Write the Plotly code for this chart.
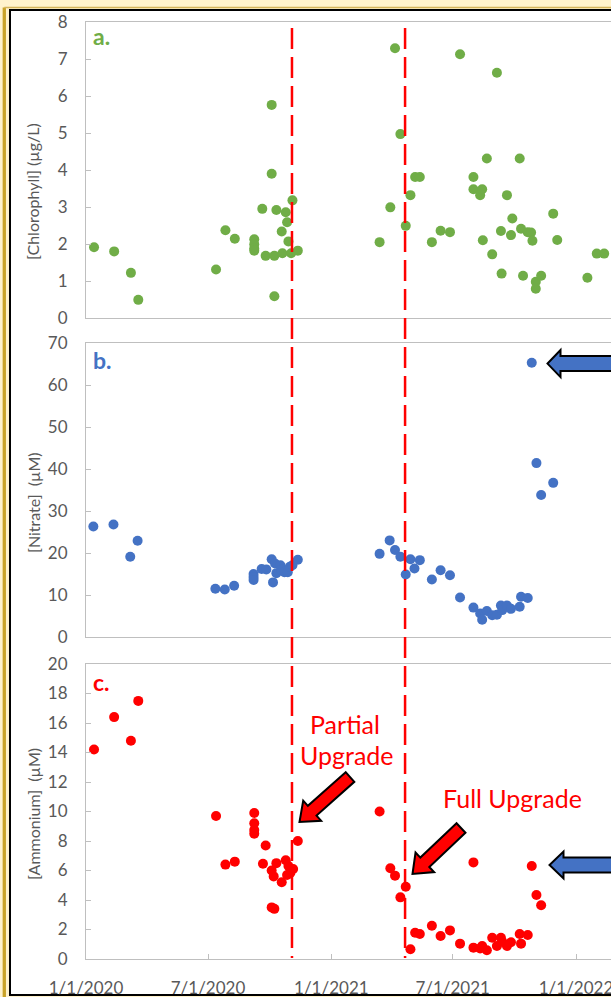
import plotly.graph_objects as go

# ---------------- data ----------------
chl_dates = ["2020-01-13", "2020-02-12", "2020-03-08", "2020-03-19", "2020-07-13", "2020-07-27",
             "2020-08-10", "2020-09-08", "2020-09-08", "2020-09-08", "2020-09-08", "2020-09-20",
             "2020-09-25", "2020-10-04", "2020-10-04", "2020-10-08", "2020-10-08", "2020-10-11",
             "2020-10-19", "2020-10-20", "2020-10-25", "2020-10-27", "2020-10-29", "2020-11-02",
             "2020-11-04", "2020-11-12", "2021-03-14", "2021-03-30", "2021-04-06", "2021-04-14",
             "2021-04-22", "2021-04-29", "2021-05-06", "2021-05-13", "2021-05-31", "2021-06-13",
             "2021-06-27", "2021-07-12", "2021-08-01", "2021-08-01", "2021-08-11", "2021-08-14",
             "2021-08-15", "2021-08-21", "2021-08-29", "2021-09-05", "2021-09-11", "2021-09-12",
             "2021-09-20", "2021-09-26", "2021-09-28", "2021-10-09", "2021-10-11", "2021-10-14",
             "2021-10-21", "2021-10-26", "2021-10-28", "2021-11-02", "2021-11-02", "2021-11-10",
             "2021-11-28", "2021-12-04", "2022-01-18", "2022-02-01", "2022-02-12"]
chl_vals = [1.91, 1.80, 1.22, 0.49, 1.31, 2.37,
            2.14, 2.13, 1.99, 1.88, 1.82, 2.95,
            1.68, 5.76, 3.90, 1.68, 0.59, 2.92,
            2.34, 1.75, 2.86, 2.59, 2.07, 1.75,
            3.18, 1.82, 2.05, 2.99, 7.29, 4.97,
            2.49, 3.32, 3.81, 3.81, 2.05, 2.36,
            2.32, 7.13, 3.81, 3.48, 3.32, 3.48,
            2.10, 4.31, 1.72, 6.63, 2.35, 1.20,
            3.32, 2.24, 2.69, 4.31, 2.41, 1.14,
            2.32, 2.31, 2.09, 0.98, 0.79, 1.14,
            2.82, 2.11, 1.09, 1.74, 1.74]

no3_dates = ["2020-01-12", "2020-02-11", "2020-03-07", "2020-03-18", "2020-07-12", "2020-07-26",
             "2020-08-09", "2020-09-07", "2020-09-07", "2020-09-07", "2020-09-19", "2020-09-26",
             "2020-10-04", "2020-10-06", "2020-10-09", "2020-10-11", "2020-10-17", "2020-10-18",
             "2020-10-23", "2020-10-28", "2020-10-31", "2020-11-04", "2020-11-12", "2021-03-14",
             "2021-03-29", "2021-04-06", "2021-04-14", "2021-04-22", "2021-04-29", "2021-05-05",
             "2021-05-13", "2021-05-31", "2021-06-13", "2021-06-27", "2021-07-12", "2021-08-01",
             "2021-08-11", "2021-08-14", "2021-08-21", "2021-08-29", "2021-09-05", "2021-09-11",
             "2021-09-13", "2021-09-20", "2021-09-26", "2021-10-09", "2021-10-11", "2021-10-21",
             "2021-10-27", "2021-11-03", "2021-11-10", "2021-11-28"]
no3_vals = [26.3, 26.8, 19.1, 22.9, 11.5, 11.3,
            12.2, 15.0, 14.3, 13.6, 16.2, 16.1,
            18.5, 13.0, 17.5, 15.2, 17.1, 16.0,
            15.4, 15.4, 16.7, 17.1, 18.4, 19.8,
            23.0, 20.7, 19.1, 14.9, 18.5, 16.3,
            18.3, 13.7, 15.9, 14.7, 9.4, 7.0,
            5.6, 4.1, 6.2, 5.2, 5.3, 7.5,
            6.4, 7.5, 6.7, 7.2, 9.6, 9.3,
            65.3, 41.4, 33.8, 36.7]

nh4_dates = ["2020-01-13", "2020-02-12", "2020-03-08", "2020-03-19", "2020-07-13", "2020-07-27",
             "2020-08-10", "2020-09-08", "2020-09-08", "2020-09-08", "2020-09-08", "2020-09-21",
             "2020-09-25", "2020-10-04", "2020-10-04", "2020-10-08", "2020-10-07", "2020-10-11",
             "2020-10-19", "2020-10-25", "2020-10-27", "2020-10-29", "2020-11-01", "2020-11-05",
             "2020-11-12", "2021-03-14", "2021-03-30", "2021-04-06", "2021-04-14", "2021-04-22",
             "2021-04-29", "2021-05-06", "2021-05-13", "2021-05-31", "2021-06-13", "2021-06-27",
             "2021-07-12", "2021-08-01", "2021-08-01", "2021-08-11", "2021-08-14", "2021-08-21",
             "2021-08-29", "2021-09-05", "2021-09-11", "2021-09-13", "2021-09-20", "2021-09-26",
             "2021-10-09", "2021-10-11", "2021-10-21", "2021-10-27", "2021-11-03", "2021-11-10"]
nh4_vals = [14.2, 16.4, 14.8, 17.5, 9.7, 6.4,
            6.6, 9.9, 9.2, 8.75, 8.5, 6.46,
            7.7, 6.0, 3.5, 3.4, 5.6, 6.5,
            5.2, 6.7, 5.7, 6.3, 5.85, 6.1,
            8.0, 10.0, 6.15, 5.65, 4.18, 4.9,
            0.66, 1.78, 1.7, 2.26, 1.56, 1.94,
            1.04, 6.55, 0.77, 0.72, 0.88, 0.59,
            1.44, 0.88, 1.44, 1.17, 0.88, 1.13,
            1.69, 1.04, 1.63, 6.3, 4.34, 3.64]

upgrade_dates = ["2020-11-03 07:00", "2021-04-21"]
x_tick_vals = ["2020-01-01", "2020-07-01", "2021-01-01", "2021-07-01", "2022-01-01"]
x_tick_text = ["1/1/2020", "7/1/2020", "1/1/2021", "7/1/2021", "1/1/2022"]
x_range = ["2020-01-01", "2022-02-22 05:00"]

# ---------------- layout helpers ----------------
W, H = 611, 997
L, R, T, B = 86, 0, 22, 38
PW, PH = W - L - R, H - T - B


def px(x):
    return (x - L) / PW


def py(y):
    return (H - B - y) / PH


FONT = "Lato, Open Sans, sans-serif"
GRAY = "#595959"
AXIS = "#BFBFBF"

fig = go.Figure()
fig.add_trace(go.Scatter(x=chl_dates, y=chl_vals, mode="markers", xaxis="x", yaxis="y",
                         marker=dict(color="#70AD47", size=10), showlegend=False))
fig.add_trace(go.Scatter(x=no3_dates, y=no3_vals, mode="markers", xaxis="x2", yaxis="y2",
                         marker=dict(color="#4472C4", size=10), showlegend=False))
fig.add_trace(go.Scatter(x=nh4_dates, y=nh4_vals, mode="markers", xaxis="x3", yaxis="y3",
                         marker=dict(color="#FF0000", size=10), showlegend=False))

xbase = dict(type="date", range=x_range, showgrid=False, zeroline=False, showline=True,
             linecolor=AXIS, linewidth=1, mirror=True)
ybase = dict(showgrid=False, zeroline=False, showline=True, linecolor=AXIS, linewidth=1,
             ticks="inside", ticklen=5, tickcolor=AXIS, tickfont=dict(family=FONT, size=17, color=GRAY),
             ticklabelstandoff=14)

dom_a = [py(318), py(22)]
dom_b = [py(637), py(343)]
dom_c = [py(959), py(664)]

fig.update_layout(
    width=W, height=H,
    margin=dict(l=L, r=R, t=T, b=B, autoexpand=False),
    paper_bgcolor="#FFF2CC", plot_bgcolor="rgba(0,0,0,0)",
    xaxis=dict(**xbase, anchor="y", showticklabels=False, ticks=""),
    xaxis2=dict(**xbase, anchor="y2", showticklabels=False, ticks=""),
    xaxis3=dict(**xbase, anchor="y3", tickvals=x_tick_vals, ticktext=x_tick_text,
                ticks="inside", ticklen=5, tickcolor=AXIS, ticklabeloverflow="allow",
                tickfont=dict(family=FONT, size=17, color=GRAY), ticklabelstandoff=14),
    yaxis=dict(**ybase, domain=dom_a, range=[0, 8], dtick=1, anchor="x"),
    yaxis2=dict(**ybase, domain=dom_b, range=[0, 70], dtick=10, anchor="x2"),
    yaxis3=dict(**ybase, domain=dom_c, range=[0, 20], dtick=2, anchor="x3"),
)

shapes = []
# frame: cream border with gold line, white inner panel with black outline
shapes.append(dict(type="line", xref="paper", yref="paper", x0=px(4.3), x1=px(4.3), y0=py(7.5), y1=py(1010),
                   line=dict(color="#C9A227", width=3.3), layer="below"))
shapes.append(dict(type="line", xref="paper", yref="paper", x0=px(4.3), x1=px(700), y0=py(7.5), y1=py(7.5),
                   line=dict(color="#D4B35A", width=1.5), layer="below"))
shapes.append(dict(type="rect", xref="paper", yref="paper", x0=px(10), x1=px(720), y0=py(10), y1=py(995),
                   line=dict(color="#000000", width=2), fillcolor="#FFFFFF", layer="below"))

# vertical dashed upgrade lines
for d in upgrade_dates:
    shapes.append(dict(type="line", xref="x", yref="paper", x0=d, x1=d, y0=py(28), y1=py(958),
                       line=dict(color="#FF0000", width=2.5, dash="21px,8px"), layer="above"))


def block_arrow(tail, tip, w, hw, hl):
    (sx, sy), (tx, ty) = tail, tip
    dx, dy = tx - sx, ty - sy
    n = (dx * dx + dy * dy) ** 0.5
    ux, uy = dx / n, dy / n
    nx, ny = -uy, ux
    bx, by = tx - ux * hl, ty - uy * hl
    pts = [(sx + nx * w, sy + ny * w), (bx + nx * w, by + ny * w), (bx + nx * hw, by + ny * hw),
           (tx, ty), (bx - nx * hw, by - ny * hw), (bx - nx * w, by - ny * w), (sx - nx * w, sy - ny * w)]
    return "M " + " L ".join(f"{px(x):.5f},{py(y):.5f}" for x, y in pts) + " Z"


arrows = [
    (block_arrow((350, 777), (299.5, 822), 6.5, 13.5, 17), "#FF0000"),
    (block_arrow((461, 828), (412.5, 874), 6.5, 13.5, 17), "#FF0000"),
    (block_arrow((660, 363.6), (547.5, 363.6), 7.5, 13.5, 13), "#4472C4"),
    (block_arrow((660, 865), (549.5, 865), 7.5, 13.5, 14), "#4472C4"),
]
for path, col in arrows:
    shapes.append(dict(type="path", xref="paper", yref="paper", path=path, fillcolor=col,
                       line=dict(color="#000000", width=2), layer="above"))

fig.update_layout(shapes=shapes)

ann = []
# panel letters
for lab, col, yc in [("a.", "#70AD47", 36), ("b.", "#4472C4", 360), ("c.", "#FF0000", 682)]:
    ann.append(dict(text=f"<b>{lab}</b>", xref="paper", yref="paper", x=px(91), y=py(yc),
                    xanchor="left", yanchor="middle", showarrow=False,
                    font=dict(family=FONT, size=23, color=col)))
# y-axis titles
for t, yc in [("[Chlorophyll] (µg/L)", 192), ("[Nitrate] \u00a0(µM)", 503), ("[Ammonium] \u00a0(µM)", 814)]:
    ann.append(dict(text=t, xref="paper", yref="paper", x=px(33), y=py(yc), xanchor="center",
                    yanchor="middle", textangle=-90, showarrow=False,
                    font=dict(family=FONT, size=16, color=GRAY)))
# upgrade labels
for t, xc, yc in [("Partial", 345, 724), ("Upgrade", 347, 755), ("Full Upgrade", 512, 798)]:
    ann.append(dict(text=t, xref="paper", yref="paper", x=px(xc), y=py(yc), xanchor="center",
                    yanchor="middle", showarrow=False,
                    font=dict(family=FONT, size=25, color="#FF0000")))
fig.update_layout(annotations=ann)

fig.write_html("out.html", config={"displayModeBar": False},
               post_script="document.body.style.margin='0';document.body.style.overflow='hidden';")
